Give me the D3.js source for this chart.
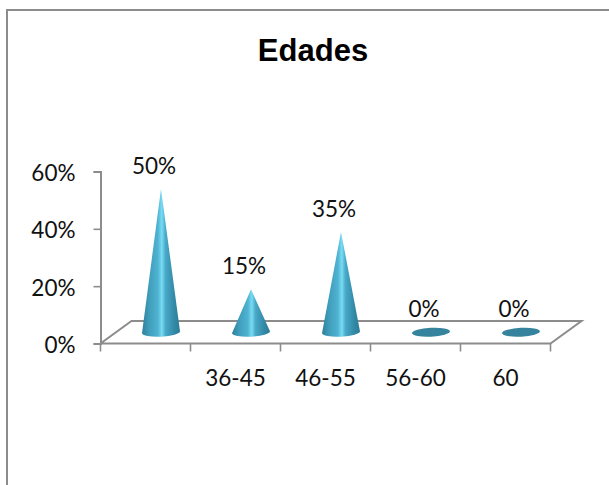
<!DOCTYPE html>
<html>
<head>
<meta charset="utf-8">
<script src="https://cdn.jsdelivr.net/npm/d3@7"></script>
<style>
  html, body { margin: 0; padding: 0; background: #fff; }
  svg { display: block; }
  text { font-family: Lato, "Open Sans", sans-serif; fill: #111; }
</style>
</head>
<body>
<svg id="chart" width="609" height="485"></svg>
<script>
const chartTitle = "Edades";
const categories = ["", "36-45", "46-55", "56-60", "60"];
const shares = [0.50, 0.15, 0.35, 0, 0];
const yTicks = [0, 0.2, 0.4, 0.6];

const svg = d3.select("#chart");
const grey = "#8c8c8c";

// Chart frame: only the top and left edges are in view
svg.append("path")
  .attr("d", "M7,485V10H609")
  .attr("fill", "none")
  .attr("stroke", grey)
  .attr("stroke-width", 2);

svg.append("text")
  .attr("x", 313).attr("y", 60.5)
  .attr("text-anchor", "middle")
  .style("font-family", "'Liberation Sans', Arial, sans-serif")
  .style("font-weight", "bold")
  .style("font-size", "31px")
  .style("fill", "#000")
  .text(chartTitle);

const x = d3.scaleBand().domain(d3.range(categories.length)).range([100.5, 550.5]);
const y = d3.scaleLinear().domain([0, 0.6]).range([343.5, 171.5]);

// Floor of the 3-D plot, pushed back by this depth
const depthX = 31, depthY = -22.5;
const x0 = x.range()[0], x1 = x.range()[1], y0 = y(0);
svg.append("path")
  .attr("d", `M${x0},${y0}L${x0 + depthX},${y0 + depthY}H${x1 + depthX}L${x1},${y0}Z`)
  .attr("fill", "#fff")
  .attr("stroke", grey)
  .attr("stroke-width", 2);

// Value axis
const yAxis = svg.append("g")
  .attr("transform", `translate(${x0},0)`)
  .call(d3.axisLeft(y).tickValues(yTicks).tickFormat(d3.format(".0%")).tickSize(7).tickPadding(18));
yAxis.selectAll("line").attr("stroke", grey).attr("stroke-width", 1.6);
yAxis.select(".domain").attr("stroke", grey).attr("stroke-width", 2);
yAxis.selectAll("text").style("font-size", "22.5px").attr("dy", "0.4em");

// Category axis: ticks sit on the band edges, labels in the band centres
const tickPositions = d3.range(categories.length + 1).map(i => x0 + i * x.step());
svg.append("g").selectAll("line").data(tickPositions).join("line")
  .attr("x1", d => d).attr("x2", d => d)
  .attr("y1", y0).attr("y2", y0 + 8)
  .attr("stroke", grey).attr("stroke-width", 1.6);
svg.append("g").selectAll("text").data(categories).join("text")
  .attr("x", (d, i) => x(i) + x.bandwidth() / 2)
  .attr("y", 386)
  .attr("text-anchor", "middle")
  .style("font-size", "22.5px")
  .text(d => d);

// Cone shading runs across the width
const defs = svg.append("defs");
const coneStops = [
  [0, "#2f7f9b"], [0.18, "#3f9dba"], [0.42, "#4fb3d2"], [0.52, "#7adcf3"],
  [0.62, "#48a9c8"], [0.85, "#3289a6"], [1, "#2c7c97"]
];
defs.append("linearGradient").attr("id", "coneShade")
  .selectAll("stop").data(coneStops).join("stop")
  .attr("offset", d => d[0])
  .attr("stop-color", d => d[1]);

const rx = 19, ry = 4.4, tilt = -3;
const baseY = y0 + depthY / 2;
const cx = i => x(i) + x.bandwidth() / 2 + depthX / 2;
const tipY = v => y(v) + depthY / 2;

const cones = svg.append("g").selectAll("g").data(shares).join("g")
  .attr("transform", (d, i) => `translate(${cx(i)},${baseY})`);

cones.filter(d => d > 0).append("path")
  .attr("d", d => {
    const h = tipY(d) - baseY;
    return `M${-rx},1A${rx},${ry} ${tilt} 0 0 ${rx},-1L0,${h}Z`;
  })
  .attr("fill", "url(#coneShade)");

// A zero share leaves only the flat base disc
cones.filter(d => d === 0).append("ellipse")
  .attr("rx", rx).attr("ry", ry)
  .attr("transform", `rotate(${tilt})`)
  .attr("fill", "#35839c");

// Value labels above each tip
svg.append("g").selectAll("text").data(shares).join("text")
  .attr("x", (d, i) => cx(i) - 7)
  .attr("y", d => tipY(d) - 15)
  .attr("text-anchor", "middle")
  .style("font-size", "22.5px")
  .text(d => d3.format(".0%")(d));
</script>
</body>
</html>
